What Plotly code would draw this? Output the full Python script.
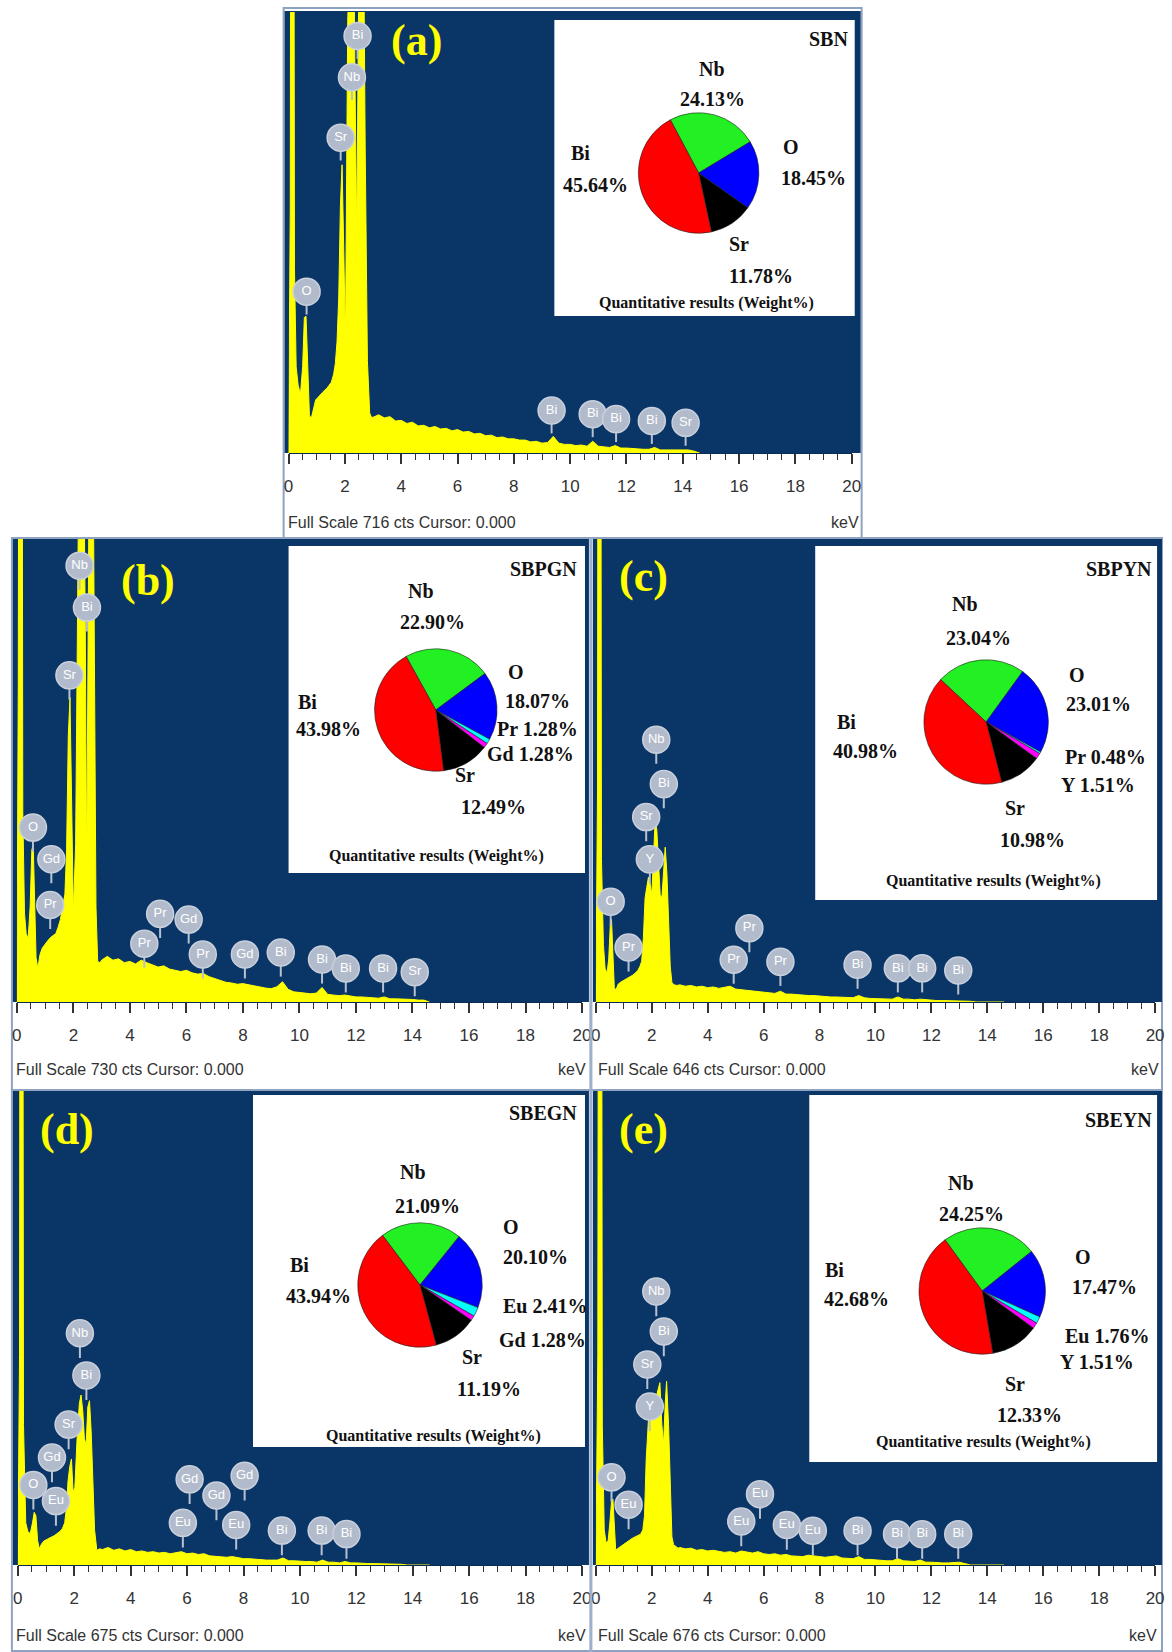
import plotly.graph_objects as go

W, H = 1172, 1652

# ---------------- DATA ----------------
full_scale = {'a': 716, 'b': 730, 'c': 646, 'd': 675, 'e': 676}
samples = {'a': 'SBN', 'b': 'SBPGN', 'c': 'SBPYN', 'd': 'SBEGN', 'e': 'SBEYN'}

tail_kev = [3.0, 3.2, 3.4, 3.6, 3.8, 4.0, 4.2, 4.4, 4.6, 4.8, 5.0, 5.2, 5.4, 5.6, 5.8,
            6.0, 6.2, 6.4, 6.6, 6.8, 7.0, 7.2, 7.4, 7.6, 7.8, 8.0, 8.2, 8.4, 8.6, 8.8,
            9.0, 9.2, 9.4, 9.6, 9.8, 10.0, 10.2, 10.4, 10.6, 10.8, 11.0, 11.2, 11.4, 11.6, 11.8,
            12.0, 12.2, 12.4, 12.6, 12.8, 13.0, 13.2, 13.4, 13.6, 13.8, 14.0, 14.2, 14.4, 14.6]

head_kev_a = [0.00, 0.06, 0.10, 0.16, 0.21, 0.27, 0.34, 0.42, 0.50, 0.56, 0.62, 0.68, 0.74, 0.80, 0.88,
              0.96, 1.04, 1.12, 1.20, 1.28, 1.36, 1.44, 1.52, 1.60, 1.66, 1.72, 1.78, 1.84, 1.90, 1.96,
              2.02, 2.10, 2.18, 2.28, 2.36, 2.42, 2.48, 2.56, 2.64, 2.72, 2.80, 2.88, 2.94]
head_cts_a = [0, 400, 2000, 2000, 300, 140, 110, 95, 140, 220, 222, 130, 62, 55, 72,
              86, 90, 95, 98, 102, 105, 110, 115, 128, 145, 180, 250, 400, 468, 330,
              180, 700, 1000, 1000, 600, 350, 700, 1000, 1000, 500, 150, 65, 58]
tail_cts_a = [58, 62, 57, 59, 52, 53, 48, 50, 44, 45, 41, 43, 39, 40, 36,
              38, 34, 35, 31, 32, 28, 29, 25, 26, 23, 23, 21, 21, 18, 19,
              16, 17, 27, 16, 14, 14, 12, 13, 11, 19, 11, 10, 9, 12, 8,
              8, 7, 7, 6, 6, 9, 5, 5, 4, 4, 4, 5, 3, 0]

head_kev_b = [0.00, 0.05, 0.10, 0.16, 0.21, 0.27, 0.33, 0.40, 0.47, 0.53, 0.58, 0.63, 0.68, 0.74, 0.82,
              0.90, 1.00, 1.10, 1.20, 1.30, 1.38, 1.46, 1.54, 1.62, 1.70, 1.76, 1.82, 1.88, 1.94, 2.00,
              2.08, 2.16, 2.22, 2.34, 2.42, 2.47, 2.52, 2.58, 2.68, 2.74, 2.80, 2.86, 2.94]
head_cts_b = [0, 500, 2000, 2000, 300, 140, 108, 100, 150, 240, 247, 150, 70, 53, 75,
              85, 92, 97, 102, 106, 108, 118, 130, 150, 170, 240, 420, 480, 300, 140,
              250, 700, 1000, 1000, 600, 200, 600, 1000, 1000, 500, 150, 64, 62]
tail_cts_b = [66, 72, 66, 68, 62, 64, 60, 66, 62, 58, 55, 57, 52, 50, 48,
              50, 46, 44, 45, 40, 37, 35, 31, 30, 28, 29, 27, 25, 23, 22,
              21, 24, 32, 20, 16, 15, 14, 13, 14, 23, 12, 11, 10, 11, 9,
              8, 8, 7, 7, 6, 8, 5, 5, 5, 4, 4, 3, 3, 0]

head_kev_c = [0.00, 0.06, 0.10, 0.15, 0.20, 0.27, 0.33, 0.40, 0.46, 0.52, 0.56, 0.61, 0.66, 0.72, 0.80,
              0.90, 1.00, 1.10, 1.20, 1.30, 1.40, 1.50, 1.58, 1.64, 1.70, 1.76, 1.82, 1.88, 1.94, 2.00,
              2.06, 2.12, 2.18, 2.24, 2.30, 2.36, 2.42, 2.48, 2.54, 2.60, 2.66, 2.72, 2.80, 2.90]
head_cts_c = [0, 300, 2000, 2000, 200, 80, 47, 40, 60, 110, 115, 70, 20, 17, 25,
              28, 30, 32, 34, 37, 40, 44, 50, 57, 90, 145, 160, 174, 165, 150,
              200, 253, 240, 190, 150, 145, 190, 216, 180, 110, 50, 27, 24, 23]
tail_cts_c = [24, 22, 23, 21, 22, 20, 21, 19, 21, 22, 18, 17, 16, 15, 14,
              13, 13, 12, 15, 11, 11, 10, 10, 9, 9, 8, 8, 7, 7, 7,
              6, 6, 9, 6, 5, 5, 5, 4, 4, 7, 4, 4, 3, 4, 3,
              2, 2, 2, 2, 1, 2, 1, 1, 0, 0, 0, 0, 0, 0]

head_kev_d = [0.00, 0.06, 0.10, 0.15, 0.20, 0.28, 0.36, 0.44, 0.52, 0.58, 0.64, 0.70, 0.76, 0.84, 0.92,
              1.00, 1.10, 1.20, 1.30, 1.40, 1.50, 1.58, 1.66, 1.72, 1.78, 1.84, 1.90, 1.96, 2.02, 2.10,
              2.18, 2.24, 2.30, 2.36, 2.42, 2.48, 2.54, 2.60, 2.66, 2.72, 2.80, 2.90]
head_cts_d = [0, 300, 2000, 2000, 200, 60, 47, 45, 60, 75, 70, 35, 23, 30, 34,
              36, 38, 40, 42, 45, 48, 52, 60, 80, 120, 140, 151, 104, 110, 180,
              230, 242, 220, 180, 171, 225, 234, 190, 110, 50, 21, 23]
tail_cts_d = [22, 25, 21, 23, 20, 22, 19, 20, 18, 19, 17, 18, 16, 17, 19,
              16, 17, 15, 16, 13, 12, 12, 11, 12, 10, 9, 9, 8, 8, 7,
              7, 7, 10, 6, 6, 5, 5, 5, 4, 7, 4, 4, 3, 5, 3,
              3, 2, 2, 2, 2, 2, 1, 1, 1, 0, 0, 0, 0, 0]

head_kev_e = [0.00, 0.07, 0.12, 0.18, 0.23, 0.30, 0.37, 0.44, 0.50, 0.56, 0.61, 0.66, 0.71, 0.80, 0.90,
              1.00, 1.10, 1.20, 1.30, 1.40, 1.50, 1.60, 1.68, 1.74, 1.80, 1.86, 1.92, 2.00, 2.08, 2.16,
              2.24, 2.29, 2.36, 2.42, 2.48, 2.53, 2.60, 2.66, 2.72, 2.78, 2.86, 2.94]
head_cts_e = [0, 300, 2000, 2000, 200, 50, 31, 35, 60, 90, 94, 50, 21, 24, 27,
              30, 33, 36, 38, 40, 42, 44, 50, 70, 150, 200, 235, 245, 235, 240,
              255, 260, 200, 172, 230, 262, 200, 100, 40, 29, 26, 24]
tail_cts_e = [25, 23, 24, 21, 22, 20, 21, 19, 18, 19, 17, 20, 18, 17, 19,
              16, 15, 16, 14, 15, 13, 13, 12, 14, 13, 11, 11, 12, 13, 10,
              9, 9, 12, 8, 8, 7, 7, 6, 6, 9, 6, 5, 5, 7, 4,
              4, 3, 3, 3, 3, 4, 2, 0, 0, 0, 0, 0, 0, 0]

# peak markers (element, energy keV, label height in counts)
peak_el_a = ['O', 'Sr', 'Nb', 'Bi', 'Bi', 'Bi', 'Bi', 'Bi', 'Sr']
peak_kev_a = [0.64, 1.85, 2.25, 2.45, 9.34, 10.80, 11.63, 12.90, 14.10]
peak_cts_a = [262, 512, 610, 677, 69, 63, 55, 52, 49]

peak_el_b = ['Nb', 'Bi', 'Sr', 'O', 'Gd', 'Pr', 'Pr', 'Pr', 'Gd', 'Pr', 'Gd', 'Bi', 'Bi', 'Bi', 'Bi', 'Sr']
peak_kev_b = [2.22, 2.48, 1.86, 0.57, 1.22, 1.18, 4.51, 5.07, 6.08, 6.58, 8.07, 9.34, 10.80, 11.64, 12.96, 14.08]
peak_cts_b = [688, 622, 515, 275, 225, 153, 92, 139, 130, 75, 75, 78, 67, 53, 53, 47]

peak_el_c = ['Nb', 'Bi', 'Sr', 'Y', 'O', 'Pr', 'Pr', 'Pr', 'Pr', 'Bi', 'Bi', 'Bi', 'Bi']
peak_kev_c = [2.16, 2.43, 1.80, 1.93, 0.53, 1.17, 4.93, 5.49, 6.60, 9.36, 10.80, 11.67, 12.96]
peak_cts_c = [366, 304, 258, 199, 140, 76, 59, 103, 56, 52, 47, 47, 44]

peak_el_d = ['Nb', 'Bi', 'Sr', 'Gd', 'O', 'Eu', 'Gd', 'Eu', 'Gd', 'Gd', 'Eu', 'Bi', 'Bi', 'Bi']
peak_kev_d = [2.20, 2.43, 1.80, 1.21, 0.55, 1.35, 6.09, 5.85, 7.04, 8.04, 7.74, 9.36, 10.77, 11.65]
peak_cts_d = [330, 270, 200, 153, 114, 91, 122, 60, 99, 127, 57, 49, 49, 44]

peak_el_e = ['Nb', 'Bi', 'Sr', 'Y', 'O', 'Eu', 'Eu', 'Eu', 'Eu', 'Eu', 'Bi', 'Bi', 'Bi', 'Bi']
peak_kev_e = [2.16, 2.43, 1.84, 1.93, 0.56, 1.17, 5.20, 5.87, 6.83, 7.76, 9.36, 10.77, 11.67, 12.96]
peak_cts_e = [390, 333, 286, 226, 125, 86, 62, 101, 57, 49, 49, 44, 44, 44]

# quantitative results (weight %)
pie_el_a = ['Nb', 'O', 'Sr', 'Bi']
pie_wt_a = [24.13, 18.45, 11.78, 45.64]
pie_el_b = ['Nb', 'O', 'Pr', 'Gd', 'Sr', 'Bi']
pie_wt_b = [22.90, 18.07, 1.28, 1.28, 12.49, 43.98]
pie_el_c = ['Nb', 'O', 'Pr', 'Y', 'Sr', 'Bi']
pie_wt_c = [23.04, 23.01, 0.48, 1.51, 10.98, 40.98]
pie_el_d = ['Nb', 'O', 'Eu', 'Gd', 'Sr', 'Bi']
pie_wt_d = [21.09, 20.10, 2.41, 1.28, 11.19, 43.94]
pie_el_e = ['Nb', 'O', 'Eu', 'Y', 'Sr', 'Bi']
pie_wt_e = [24.25, 17.47, 1.76, 1.51, 12.33, 42.68]

data = {
    'a': dict(x=head_kev_a + tail_kev, y=head_cts_a + tail_cts_a,
              pel=peak_el_a, pkev=peak_kev_a, pcts=peak_cts_a, qel=pie_el_a, qwt=pie_wt_a),
    'b': dict(x=head_kev_b + tail_kev, y=head_cts_b + tail_cts_b,
              pel=peak_el_b, pkev=peak_kev_b, pcts=peak_cts_b, qel=pie_el_b, qwt=pie_wt_b),
    'c': dict(x=head_kev_c + tail_kev, y=head_cts_c + tail_cts_c,
              pel=peak_el_c, pkev=peak_kev_c, pcts=peak_cts_c, qel=pie_el_c, qwt=pie_wt_c),
    'd': dict(x=head_kev_d + tail_kev, y=head_cts_d + tail_cts_d,
              pel=peak_el_d, pkev=peak_kev_d, pcts=peak_cts_d, qel=pie_el_d, qwt=pie_wt_d),
    'e': dict(x=head_kev_e + tail_kev, y=head_cts_e + tail_cts_e,
              pel=peak_el_e, pkev=peak_kev_e, pcts=peak_cts_e, qel=pie_el_e, qwt=pie_wt_e),
}

# ---------------- LAYOUT GEOMETRY (pixels) ----------------
# lab entries: (slice index, name x, name y, value x, value y); value x None -> one-line label
geom = {
    'a': dict(frame=(282, 8, 867, 538), navy=(283, 11, 866, 453), xdom=(287, 857), ydom=(453, 12),
              letter=(416, 40), box=(556, 20, 860, 316), pie=(702, 173, 61), rot=-28,
              name=(855, 39), quant=(710, 303), fs=(284, 866, 522),
              lab=[(0, 700, 69, 681, 99), (1, 785, 147, 783, 178), (2, 731, 244, 731, 276),
                   (3, 571, 153, 563, 185)]),
    'b': dict(frame=(7, 538, 593, 1090), navy=(8, 539, 591, 1002), xdom=(12, 584), ydom=(1002, 539),
              letter=(145, 580), box=(287, 546, 587, 873), pie=(436, 710, 62), rot=-29,
              name=(581, 569), quant=(437, 856), fs=(9, 590, 1069),
              lab=[(0, 406, 591, 398, 622), (1, 507, 672, 504, 701), (2, 496, 729, None, None),
                   (3, 486, 754, None, None), (4, 453, 775, 459, 807), (5, 295, 702, 292, 729)]),
    'c': dict(frame=(593, 538, 1171, 1090), navy=(595, 539, 1171, 1002), xdom=(598, 1164), ydom=(1002, 539),
              letter=(646, 577), box=(820, 546, 1166, 900), pie=(993, 722, 63), rot=-47,
              name=(1163, 569), quant=(1000, 881), fs=(598, 1170, 1069),
              lab=[(0, 956, 604, 950, 638), (1, 1075, 675, 1072, 704), (2, 1071, 757, None, None),
                   (3, 1067, 785, None, None), (4, 1010, 808, 1005, 840), (5, 840, 722, 836, 751)]),
    'd': dict(frame=(7, 1090, 593, 1651), navy=(8, 1091, 591, 1565), xdom=(13, 584), ydom=(1565, 1091),
              letter=(63, 1129), box=(251, 1095, 587, 1447), pie=(420, 1285, 63), rot=-37,
              name=(581, 1113), quant=(434, 1436), fs=(9, 590, 1635),
              lab=[(0, 398, 1172, 393, 1206), (1, 502, 1227, 502, 1257), (2, 502, 1306, None, None),
                   (3, 498, 1340, None, None), (4, 461, 1357, 455, 1389), (5, 286, 1265, 282, 1296)]),
    'e': dict(frame=(593, 1090, 1171, 1651), navy=(595, 1091, 1171, 1565), xdom=(598, 1164), ydom=(1565, 1091),
              letter=(646, 1129), box=(814, 1095, 1166, 1462), pie=(989, 1291, 64), rot=-36,
              name=(1163, 1120), quant=(990, 1442), fs=(598, 1168, 1635),
              lab=[(0, 952, 1183, 943, 1214), (1, 1081, 1257, 1078, 1287), (2, 1071, 1336, None, None),
                   (3, 1066, 1362, None, None), (4, 1010, 1384, 1002, 1415), (5, 828, 1270, 827, 1299)]),
}

NAVY = '#0a3567'
YEL = '#ffff00'
SERIF = 'Liberation Serif, Times New Roman, serif'
NARROW = 'Liberation Sans Narrow, Arial Narrow, Liberation Sans, Arial, sans-serif'
SANS = 'Liberation Sans, Arial, sans-serif'
slice_colors4 = ['#22f022', '#0000ff', '#000000', '#ff0000']
slice_colors6 = ['#22f022', '#0000ff', '#00ffff', '#ff00ff', '#000000', '#ff0000']


def px(x):
    return x / W


def py(y):
    return 1 - y / H


fig = go.Figure()
shapes = []
annotations = []
layout_axes = {}


def ann(x, y, text, size, family=SERIF, color='#111', xanchor='left'):
    annotations.append(dict(x=px(x), y=py(y), xref='paper', yref='paper', xanchor=xanchor,
                            yanchor='middle', showarrow=False, text=text,
                            font=dict(family=family, size=size, color=color)))


for i, k in enumerate(['a', 'b', 'c', 'd', 'e']):
    g = geom[k]
    d = data[k]
    fs = full_scale[k]
    n = i + 1
    xa = 'x' if n == 1 else f'x{n}'
    ya = 'y' if n == 1 else f'y{n}'
    xkey = 'xaxis' if n == 1 else f'xaxis{n}'
    ykey = 'yaxis' if n == 1 else f'yaxis{n}'

    fx0, fy0, fx1, fy1 = g['frame']
    shapes.append(dict(type='rect', xref='paper', yref='paper', x0=px(fx0), x1=px(fx1), y0=py(fy1), y1=py(fy0),
                       fillcolor='white', line=dict(color='#8ea3c2', width=2), layer='below'))
    nx0, ny0, nx1, ny1 = g['navy']
    shapes.append(dict(type='rect', xref='paper', yref='paper', x0=px(nx0), x1=px(nx1), y0=py(ny1), y1=py(ny0),
                       fillcolor=NAVY, line=dict(width=0), layer='below'))

    # spectrum
    fig.add_trace(go.Scatter(x=d['x'], y=d['y'], mode='lines', line=dict(color=YEL, width=1),
                             fill='tozeroy', fillcolor=YEL, xaxis=xa, yaxis=ya,
                             hoverinfo='skip', showlegend=False))
    # peak identification markers with stems
    stem = [0.052 * fs] * len(d['pcts'])
    fig.add_trace(go.Scatter(x=d['pkev'], y=d['pcts'], mode='markers+text', text=d['pel'],
                             textposition='middle center',
                             textfont=dict(family=SANS, size=13, color='white'),
                             marker=dict(size=27, color='#b2bbcb', line=dict(color='#c9d0dc', width=1.5)),
                             error_y=dict(type='data', symmetric=False, array=[0] * len(stem),
                                          arrayminus=stem, width=0, thickness=2, color='#b9c1cf'),
                             xaxis=xa, yaxis=ya, hoverinfo='skip', showlegend=False))

    x0p, x20p = g['xdom']
    yb, yt = g['ydom']
    layout_axes[xkey] = dict(domain=[px(x0p), px(x20p)], range=[0, 20], anchor=ya,
                             tick0=0, dtick=2, ticks='outside', ticklen=10, tickwidth=1.5, tickcolor='#333',
                             minor=dict(dtick=0.5, ticks='outside', ticklen=6, tickwidth=1.2, tickcolor='#333'),
                             showgrid=False, zeroline=False, showline=True, linecolor='#0a2a52', linewidth=1,
                             tickfont=dict(family=NARROW, size=17, color='#333'), ticklabelstandoff=8,
                             fixedrange=True)
    layout_axes[ykey] = dict(domain=[py(yb), py(yt)], range=[0, fs], anchor=xa, visible=False,
                             fixedrange=True)

    # inset box
    bx0, by0, bx1, by1 = g['box']
    shapes.append(dict(type='rect', xref='paper', yref='paper', x0=px(bx0), x1=px(bx1), y0=py(by1), y1=py(by0),
                       fillcolor='white', line=dict(width=0), layer='below'))

    # pie of weight %
    cx, cy, r = g['pie']
    cols = slice_colors4 if len(d['qel']) == 4 else slice_colors6
    fig.add_trace(go.Pie(values=d['qwt'], labels=d['qel'], sort=False, direction='clockwise',
                         rotation=g['rot'], textinfo='none', hoverinfo='label+value',
                         marker=dict(colors=cols, line=dict(color='#202020', width=0.6)),
                         domain=dict(x=[px(cx - r), px(cx + r)], y=[py(cy + r), py(cy - r)]),
                         showlegend=False))

    for (idx, nx, ny, vx, vy) in g['lab']:
        nm = d['qel'][idx]
        val = f"{d['qwt'][idx]:.2f}%"
        if vx is None:
            ann(nx, ny, f'<b>{nm} {val}</b>', 20)
        else:
            ann(nx, ny, f'<b>{nm}</b>', 20)
            ann(vx, vy, f'<b>{val}</b>', 20)

    ann(g['name'][0], g['name'][1], f'<b>{samples[k]}</b>', 20, xanchor='right')
    ann(g['quant'][0], g['quant'][1], '<b>Quantitative results (Weight%)</b>', 16, xanchor='center')
    ann(g['letter'][0], g['letter'][1], f'<b>({k})</b>', 44, color=YEL, xanchor='center')
    fl, fr, fyy = g['fs']
    ann(fl, fyy, f'Full Scale {fs} cts Cursor: 0.000', 16, family=NARROW, color='#333')
    ann(fr, fyy, 'keV', 16, family=NARROW, color='#333', xanchor='right')

shapes.append(dict(type='line', xref='paper', yref='paper', x0=px(593), x1=px(593), y0=py(1652), y1=py(538),
                   line=dict(color='#9db0cc', width=3), layer='above'))

fig.update_layout(width=W, height=H, margin=dict(l=0, r=0, t=0, b=0), autosize=False,
                  paper_bgcolor='white', plot_bgcolor='rgba(0,0,0,0)',
                  shapes=shapes, annotations=annotations, showlegend=False, **layout_axes)

fig.write_html('out.html')
